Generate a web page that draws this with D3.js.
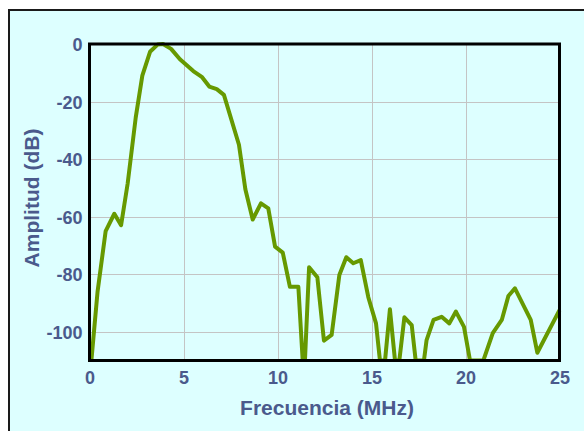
<!DOCTYPE html>
<html>
<head>
<meta charset="utf-8">
<script src="https://cdn.jsdelivr.net/npm/d3@7"></script>
<style>
  html, body { margin: 0; padding: 0; background: #ffffff; }
  svg { display: block; }
  text { font-family: "Liberation Sans", Arial, sans-serif; font-weight: bold; fill: #4a5a8c; }
</style>
</head>
<body>
<script>
// Spectrum samples: frequency (MHz) and amplitude (dB)
const freqMHz = [0.1, 0.43, 0.86, 1.32, 1.68, 2.03, 2.46, 2.81, 3.22, 3.62, 3.91, 4.34, 4.81, 5.52, 5.97,
  6.37, 6.77, 7.15, 7.95, 8.29, 8.68, 9.12, 9.51, 9.87, 10.28, 10.66, 11.11, 11.34, 11.46, 11.68,
  12.12, 12.47, 12.88, 13.29, 13.66, 14.03, 14.43, 14.83, 15.24, 15.45, 15.72, 15.98, 16.25, 16.48,
  16.75, 17.14, 17.35, 17.79, 17.93, 18.3, 18.73, 19.14, 19.49, 19.92, 20.24, 20.95, 21.45, 21.93,
  22.28, 22.63, 23.47, 23.82, 25];
const amplitudeDb = [-110, -86, -65, -59, -63, -48.5, -25.5, -11, -2.7, -0.2, 0, -1.7, -5.3, -9.4, -11.4,
  -14.8, -15.7, -17.7, -35, -50.5, -61, -55.4, -57.1, -70.4, -72.5, -84.4, -84.4, -110, -110, -77.6,
  -81.1, -103.1, -101.1, -80.3, -74.1, -76.2, -75.1, -88, -97.1, -110, -110, -92.2, -110, -110,
  -95, -97.7, -110, -110, -102.9, -95.9, -94.8, -97.1, -93, -98.3, -110, -110, -100.5, -95.9,
  -87.6, -84.9, -95.9, -107.3, -92.5];
const xTicks = [0, 5, 10, 15, 20, 25];
const yTicks = [0, -20, -40, -60, -80, -100];
const xTitle = "Frecuencia (MHz)";
const yTitle = "Amplitud (dB)";

const W = 584, H = 431;
const plot = { left: 89.5, right: 559.5, top: 44, bottom: 360.5 };
const labelFmt = d => String(d); // plain hyphen-minus

const svg = d3.select("body").append("svg").attr("width", W).attr("height", H);

// Chart area panel
svg.append("rect").attr("x", 9).attr("y", 10).attr("width", W).attr("height", H)
  .attr("fill", "#ddffff").attr("stroke", "#1a1a1a").attr("stroke-width", 2);

const x = d3.scaleLinear().domain([0, 25]).range([plot.left, plot.right]);
const y = d3.scaleLinear().domain([-110, 0]).range([plot.bottom, plot.top]);

// Gridlines
const grid = svg.append("g").attr("stroke", "#c4c4c4").attr("stroke-width", 1);
grid.selectAll("line.v").data(xTicks.filter(d => d > 0 && d < 25)).join("line")
  .attr("x1", d => Math.round(x(d)) + 0.5).attr("x2", d => Math.round(x(d)) + 0.5)
  .attr("y1", plot.top).attr("y2", plot.bottom);
grid.selectAll("line.h").data(yTicks.filter(d => d < 0)).join("line")
  .attr("y1", d => Math.round(y(d)) + 0.5).attr("y2", d => Math.round(y(d)) + 0.5)
  .attr("x1", plot.left).attr("x2", plot.right);

// Clip the trace to the plotting area
svg.append("clipPath").attr("id", "plotClip").append("rect")
  .attr("x", plot.left).attr("y", plot.top - 3)
  .attr("width", plot.right - plot.left + 3).attr("height", plot.bottom - plot.top + 3);

const pts = freqMHz.map((f, i) => [f, amplitudeDb[i]]);
const line = d3.line().x(d => x(d[0])).y(d => y(d[1]));
svg.append("path").datum(pts)
  .attr("clip-path", "url(#plotClip)")
  .attr("d", line)
  .attr("fill", "none")
  .attr("stroke", "#669900")
  .attr("stroke-width", 4)
  .attr("stroke-linejoin", "round");

// Plot frame
svg.append("rect")
  .attr("x", plot.left).attr("y", plot.top)
  .attr("width", plot.right - plot.left).attr("height", plot.bottom - plot.top)
  .attr("fill", "none").attr("stroke", "#000").attr("stroke-width", 3);

// Axes (labels only; frame drawn above)
const xAxis = d3.axisBottom(x).tickValues(xTicks).tickSize(0).tickPadding(0).tickFormat(labelFmt);
const gx = svg.append("g").attr("transform", `translate(0,${plot.bottom})`).call(xAxis);
gx.select(".domain").remove();
gx.selectAll("text").attr("dy", null).attr("y", 23).attr("fill", "#4a5a8c")
  .style("font-size", "18px").style("font-family", "Liberation Sans, Arial, sans-serif");

const yAxis = d3.axisLeft(y).tickValues(yTicks).tickSize(0).tickPadding(0).tickFormat(labelFmt);
const gy = svg.append("g").attr("transform", `translate(${plot.left},0)`).call(yAxis);
gy.select(".domain").remove();
gy.selectAll("text").attr("x", -7).attr("dy", "0.36em").attr("fill", "#4a5a8c")
  .style("font-size", "18px").style("font-family", "Liberation Sans, Arial, sans-serif");

// Axis titles
svg.append("text").attr("x", 327).attr("y", 415).attr("text-anchor", "middle")
  .style("font-size", "21px").text(xTitle);
svg.append("text").attr("transform", "translate(39,198) rotate(-90)").attr("text-anchor", "middle")
  .style("font-size", "21px").text(yTitle);
</script>
</body>
</html>
